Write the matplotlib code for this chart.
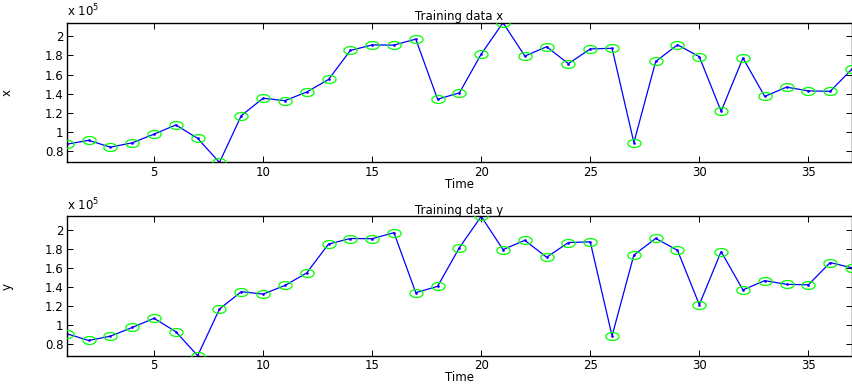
import numpy as np
import matplotlib
matplotlib.use('Agg')
import matplotlib.pyplot as plt
from matplotlib.path import Path

# values in units of 1e5
t_x = np.arange(1, 38)
train_x = [0.873, 0.913, 0.842, 0.887, 0.978, 1.074, 0.934, 0.682, 1.171, 1.353,
           1.328, 1.418, 1.549, 1.852, 1.910, 1.908, 1.971, 1.343, 1.409, 1.814,
           2.142, 1.794, 1.891, 1.714, 1.868, 1.875, 0.890, 1.737, 1.911, 1.787,
           1.217, 1.773, 1.372, 1.469, 1.430, 1.425, 1.658]
t_y = np.arange(1, 38)
train_y = [0.913, 0.842, 0.887, 0.978, 1.074, 0.934, 0.682, 1.171, 1.353, 1.328,
           1.418, 1.549, 1.852, 1.910, 1.908, 1.971, 1.343, 1.409, 1.814, 2.142,
           1.794, 1.891, 1.714, 1.868, 1.875, 0.890, 1.737, 1.911, 1.787, 1.217,
           1.773, 1.372, 1.469, 1.430, 1.425, 1.658, 1.603]
yticks = [0.8, 1, 1.2, 1.4, 1.6, 1.8, 2]
ytick_labels = ['0.8', '1', '1.2', '1.4', '1.6', '1.8', '2']
xticks = [5, 10, 15, 20, 25, 30, 35]

plt.rcParams['font.family'] = ['DejaVu Sans']
plt.rcParams['font.size'] = 8.5

# slightly flattened circle, like the stretched MATLAB 'o' markers
th = np.linspace(0, 2 * np.pi, 60)
elli = Path(np.column_stack([np.cos(th), 0.6 * np.sin(th)]))

fig = plt.figure(figsize=(8.53, 3.85), dpi=100)
ax1 = fig.add_axes([0.0783, 0.578, 0.9205, 0.363])
ax2 = fig.add_axes([0.0783, 0.076, 0.9205, 0.362])

for ax, t, v, nm in [(ax1, t_x, train_x, 'x'), (ax2, t_y, train_y, 'y')]:
    ax.plot(t, v, '-', color='#0000ff', lw=0.9, marker='.', ms=1.8, zorder=2)
    ax.plot(t, v, linestyle='none', marker=elli, ms=9.5, mfc='none',
            mec='#00ff00', mew=0.9, zorder=3)
    ax.set_xlim(1, 37)
    ax.set_ylim(min(v), max(v))
    ax.set_xticks(xticks)
    ax.set_yticks(yticks)
    ax.set_yticklabels(ytick_labels)
    ax.tick_params(direction='in', length=4, width=0.7, top=True, right=True, pad=2.5)
    for s in ax.spines.values():
        s.set_linewidth(1.0)
    ax.set_title('Training data ' + nm, fontsize=8.5, pad=2)
    ax.set_xlabel('Time', fontsize=8.5, labelpad=-1)
    ax.set_ylabel(nm, fontsize=8.5)
    ax.yaxis.set_label_coords(-0.068, 0.5)
    ax.text(0.0, 1.025, r'x 10$^5$', transform=ax.transAxes, fontsize=8.5,
            ha='left', va='bottom')

fig.savefig('out.png', dpi=100)
